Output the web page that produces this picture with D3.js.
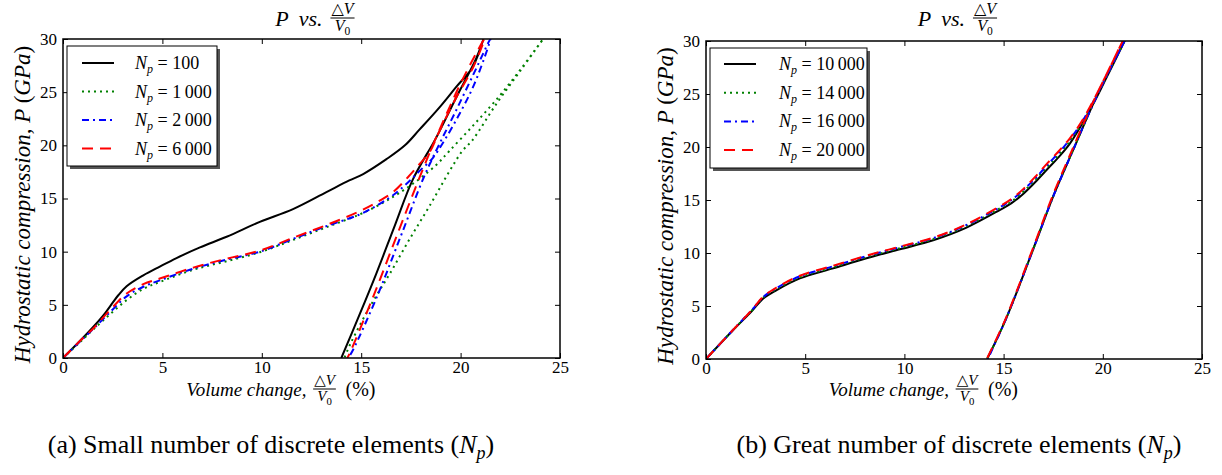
<!DOCTYPE html>
<html><head><meta charset="utf-8">
<script src="https://cdn.jsdelivr.net/npm/d3@7"></script>
<style>
body{margin:0;background:#fff}
svg{display:block}
svg text{font-family:"Liberation Serif","DejaVu Serif",serif;fill:#000}
</style>
</head><body>
<svg id="chart" width="1222" height="475"></svg>
<script>
// ---------------- data ----------------
const xTicks = [0, 5, 10, 15, 20, 25];
const yTicks = [0, 5, 10, 15, 20, 25, 30];

// panel (a): small number of discrete elements
const labelsA = ["100", "1\u2009000", "2\u2009000", "6\u2009000"];
const volA100 = [0,0.8,1.53,2.11,2.5,2.78,3.2,4.04,4.87,5.71,6.89,8.23,9.9,11.57,13.25,14.4,15.1,16.27,17.2,17.94,18.95,19.78,20.62,21.15,20.79,19.78,18.78,17.6,16.7,15.76,14.9,14.0];
const presA100 = [0,1.5,2.94,4.2,5.2,5.9,6.75,7.78,8.6,9.4,10.4,11.4,12.8,14.0,15.6,16.7,17.3,18.7,20.0,21.5,23.6,25.5,27.4,30,28.2,24.5,20.75,16.8,12.5,7.94,4.0,0];
const volA1000 = [0,0.8,1.53,2.36,3.2,4.04,4.87,6.55,8.23,9.9,11.57,13.25,14.92,16.0,16.9,17.9,18.8,19.45,20.6,21.8,23.0,24.15,23.0,21.8,20.6,20.1,19.45,18.44,17.44,16.43,15.43,14.5,14.15];
const presA1000 = [0,1.4,2.7,4.1,5.44,6.5,7.15,8.3,9.1,9.95,11.1,12.3,13.5,14.5,15.5,16.8,18.2,19.5,21.8,24.3,27.1,30,27.0,23.9,20.5,19.5,17.6,14.3,11.2,7.9,4.8,1.5,0];
const volA2000 = [0,0.8,1.53,2.36,3.2,4.04,4.87,6.55,8.23,9.9,11.57,13.25,14.92,15.93,16.6,17.35,17.94,18.6,19.1,19.9,20.7,21.5,20.6,19.7,18.9,18.15,17.0,15.8,14.6,14.35];
const presA2000 = [0,1.45,2.75,4.3,5.8,6.7,7.3,8.4,9.25,10.0,11.2,12.4,13.5,14.5,15.3,16.5,17.6,18.8,20.2,22.8,25.8,30,26.5,23.0,20.0,17.0,11.5,5.8,0.8,0];
const volA6000 = [0,0.8,1.53,2.36,3.2,4.04,4.87,6.55,8.23,9.9,11.57,13.25,14.92,15.93,16.6,17.35,17.94,18.44,18.95,19.78,20.62,21.2,20.1,19.28,18.6,17.94,16.77,15.6,14.42,14.3];
const presA6000 = [0,1.5,2.8,4.5,6.06,6.94,7.47,8.5,9.34,10.1,11.3,12.5,13.8,14.8,15.6,17.0,18.25,19.35,21.4,24.5,27.3,30,26.2,22.9,20.0,17.0,11.4,5.75,0.44,0];

// panel (b): great number of discrete elements
const labelsB = ["10\u2009000", "14\u2009000", "16\u2009000", "20\u2009000"];
const volB10000 = [0,1.37,2.3,2.89,3.56,4.73,6.41,8.09,9.77,11.45,13.13,14.8,15.4,16.0,16.6,17.2,17.8,18.33,18.9,19.5,20.2,21.1,20.3,19.5,18.5,17.49,16.48,15.1,14.17];
const presB10000 = [0,2.73,4.5,5.72,6.5,7.6,8.55,9.5,10.35,11.2,12.4,14.05,14.7,15.6,16.7,17.9,19.1,20.3,22.0,24.0,26.6,30,27.1,24.0,19.7,15.3,10.3,3.7,0];
const volB14000 = [0,1.37,2.3,2.89,3.56,4.73,6.41,8.09,9.77,11.45,13.13,14.8,15.4,16.0,16.6,17.2,17.8,18.33,18.9,19.5,20.2,21.1,20.3,19.5,18.5,17.49,16.48,15.1,14.17];
const presB14000 = [0,2.75,4.55,5.8,6.6,7.7,8.65,9.6,10.45,11.3,12.55,14.2,14.85,15.8,16.9,18.1,19.3,20.5,22.1,24.1,26.7,30,27.1,24.0,19.7,15.3,10.3,3.7,0];
const volB16000 = [0,1.37,2.3,2.89,3.56,4.73,6.41,8.09,9.77,11.45,13.13,14.8,15.4,16.0,16.6,17.2,17.8,18.33,18.9,19.5,20.2,21.1,20.3,19.5,18.5,17.49,16.48,15.1,14.2];
const presB16000 = [0,2.76,4.6,5.85,6.7,7.8,8.75,9.7,10.55,11.4,12.65,14.3,15.0,15.95,17.05,18.3,19.5,20.7,22.2,24.2,26.8,30,27.1,24.0,19.7,15.3,10.3,3.7,0];
const volB20000 = [0,1.37,2.3,2.89,3.56,4.73,6.41,8.09,9.77,11.45,13.13,14.8,15.4,16.0,16.6,17.2,17.8,18.33,18.9,19.5,20.2,21.0,20.25,19.45,18.45,17.45,16.45,15.08,14.15];
const presB20000 = [0,2.76,4.6,5.9,6.75,7.85,8.8,9.75,10.6,11.45,12.7,14.4,15.1,16.05,17.2,18.45,19.65,20.8,22.3,24.3,26.9,30,27.1,24.0,19.7,15.3,10.3,3.7,0];

const seriesColors = ["#000000", "#008000", "#0000ff", "#ff0000"];
const seriesDash = [null, "2,4", "7,4,2,4", "11,7"];

// ---------------- drawing ----------------
const svg = d3.select("#chart");
const FONT = '"Liberation Serif","DejaVu Serif",serif';

function txt(sel) { return sel.append("text").style("font-family", FONT); }

function fraction(g, cx, barY, size) {
  const num = txt(g).attr("x", cx).attr("y", barY - size * 0.25)
    .attr("text-anchor", "middle").style("font-size", size + "px");
  num.append("tspan").text("\u25B3");
  num.append("tspan").style("font-style", "italic").text("V");
  const den = txt(g).attr("x", cx).attr("y", barY + size * 0.82)
    .attr("text-anchor", "middle").style("font-size", size + "px");
  den.append("tspan").style("font-style", "italic").text("V");
  den.append("tspan").attr("dy", size * 0.25).style("font-size", (size * 0.72) + "px").text("0");
  const w = Math.max(num.node().getComputedTextLength(), den.node().getComputedTextLength()) + 2;
  g.append("line").attr("x1", cx - w / 2).attr("x2", cx + w / 2)
    .attr("y1", barY).attr("y2", barY).attr("stroke", "#000").attr("stroke-width", 1);
}

function panel(cfg) {
  const g = svg.append("g");
  const x = d3.scaleLinear().domain([0, 25]).range([cfg.x0, cfg.x1]);
  const y = d3.scaleLinear().domain([0, 30]).range([cfg.yb, cfg.yt]);

  const clipId = "clip" + cfg.id;
  svg.append("clipPath").attr("id", clipId).append("rect")
    .attr("x", cfg.x0).attr("y", cfg.yt).attr("width", cfg.x1 - cfg.x0).attr("height", cfg.yb - cfg.yt);

  const line = d3.line().x(d => x(d[0])).y(d => y(d[1])).curve(d3.curveCatmullRom.alpha(0.5));
  const lines = g.append("g").attr("clip-path", `url(#${clipId})`);
  cfg.series.forEach((s, i) => {
    const pts = s.vol.map((v, k) => [v, s.pres[k]]);
    lines.append("path").attr("d", line(pts)).attr("fill", "none")
      .attr("stroke", seriesColors[i]).attr("stroke-width", 2)
      .attr("stroke-dasharray", seriesDash[i]);
  });

  const ax = (gen, tr) => {
    const a = g.append("g").attr("transform", tr).call(gen);
    a.attr("font-family", null);
    a.select(".domain").remove();
    a.selectAll(".tick line").attr("stroke", "#000").attr("stroke-width", 1);
    a.selectAll("text").style("font-family", FONT).style("font-size", "17px").attr("fill", "#000");
    return a;
  };
  ax(d3.axisBottom(x).tickValues(xTicks).tickSizeInner(-5).tickSizeOuter(0).tickPadding(3).tickFormat(d3.format("d")), `translate(0,${cfg.yb})`);
  ax(d3.axisTop(x).tickValues(xTicks).tickSizeInner(-5).tickSizeOuter(0).tickFormat(""), `translate(0,${cfg.yt})`);
  ax(d3.axisLeft(y).tickValues(yTicks).tickSizeInner(-5).tickSizeOuter(0).tickPadding(6).tickFormat(d3.format("d")), `translate(${cfg.x0},0)`);
  ax(d3.axisRight(y).tickValues(yTicks).tickSizeInner(-5).tickSizeOuter(0).tickFormat(""), `translate(${cfg.x1},0)`);

  g.append("rect").attr("x", cfg.x0).attr("y", cfg.yt).attr("width", cfg.x1 - cfg.x0)
    .attr("height", cfg.yb - cfg.yt).attr("fill", "none").attr("stroke", "#000").attr("stroke-width", 1.5);

  // title
  const cx = (cfg.x0 + cfg.x1) / 2;
  txt(g).attr("x", cx + 11).attr("y", 26).attr("text-anchor", "end")
    .style("font-size", "22px").style("font-style", "italic").attr("word-spacing", "5px").text("P vs.");
  fraction(g, cx + 31, 18, 16);

  // x label
  txt(g).attr("x", cx - 5).attr("y", 396).attr("text-anchor", "end")
    .style("font-size", "19px").style("font-style", "italic").text("Volume change,");
  fraction(g, cx + 13, 389, 15);
  txt(g).attr("x", cx + 34).attr("y", 396).style("font-size", "20px").text("(%)");

  // y label
  const yl = txt(g).attr("transform", `translate(${cfg.ylx},${(cfg.yt + cfg.yb) / 2 + 6}) rotate(-90)`)
    .attr("text-anchor", "middle").style("font-size", "23px").style("font-style", "italic");
  yl.append("tspan").text("Hydrostatic compression, P ");
  yl.append("tspan").style("font-style", "normal").text("(");
  yl.append("tspan").text("GPa");
  yl.append("tspan").style("font-style", "normal").text(")");

  // legend
  const L = cfg.legend;
  g.append("rect").attr("x", L.x + 3).attr("y", L.y + 3).attr("width", L.w).attr("height", L.h).attr("fill", "#555");
  g.append("rect").attr("x", L.x).attr("y", L.y).attr("width", L.w).attr("height", L.h)
    .attr("fill", "#fff").attr("stroke", "#000").attr("stroke-width", 1);
  cfg.labels.forEach((lab, i) => {
    const ry = L.row0 + i * L.step;
    g.append("line").attr("x1", L.lx0).attr("x2", L.lx1).attr("y1", ry).attr("y2", ry)
      .attr("stroke", seriesColors[i]).attr("stroke-width", 2).attr("stroke-dasharray", seriesDash[i]);
    const t = txt(g).attr("x", L.tx).attr("y", ry + 6).style("font-size", "18px");
    t.append("tspan").style("font-style", "italic").text("N");
    t.append("tspan").style("font-style", "italic").style("font-size", "12px").attr("dy", 4).text("p");
    t.append("tspan").attr("dy", -4).text(" = " + lab);
  });

  // caption
  const cap = txt(g).attr("x", cfg.capx).attr("y", 453).attr("text-anchor", "middle")
    .style("font-size", "26px").attr("fill", "#111");
  cap.append("tspan").text(cfg.caption + " (");
  cap.append("tspan").style("font-style", "italic").text("N");
  cap.append("tspan").style("font-style", "italic").style("font-size", "18px").attr("dy", 6).text("p");
  cap.append("tspan").attr("dy", -6).text(")");
}

panel({
  id: "a", x0: 63, x1: 560, yt: 39, yb: 358, ylx: 30, capx: 271,
  caption: "(a) Small number of discrete elements",
  labels: labelsA,
  series: [
    {vol: volA100, pres: presA100},
    {vol: volA1000, pres: presA1000},
    {vol: volA2000, pres: presA2000},
    {vol: volA6000, pres: presA6000}
  ],
  legend: {x: 67, y: 46, w: 150, h: 120, row0: 63, step: 28.5, lx0: 82, lx1: 114, tx: 135}
});

panel({
  id: "b", x0: 706, x1: 1202, yt: 41, yb: 359, ylx: 673, capx: 959,
  caption: "(b) Great number of discrete elements",
  labels: labelsB,
  series: [
    {vol: volB10000, pres: presB10000},
    {vol: volB14000, pres: presB14000},
    {vol: volB16000, pres: presB16000},
    {vol: volB20000, pres: presB20000}
  ],
  legend: {x: 710, y: 48, w: 157, h: 120, row0: 64, step: 28.7, lx0: 724, lx1: 756, tx: 779}
});
</script>
</body></html>
